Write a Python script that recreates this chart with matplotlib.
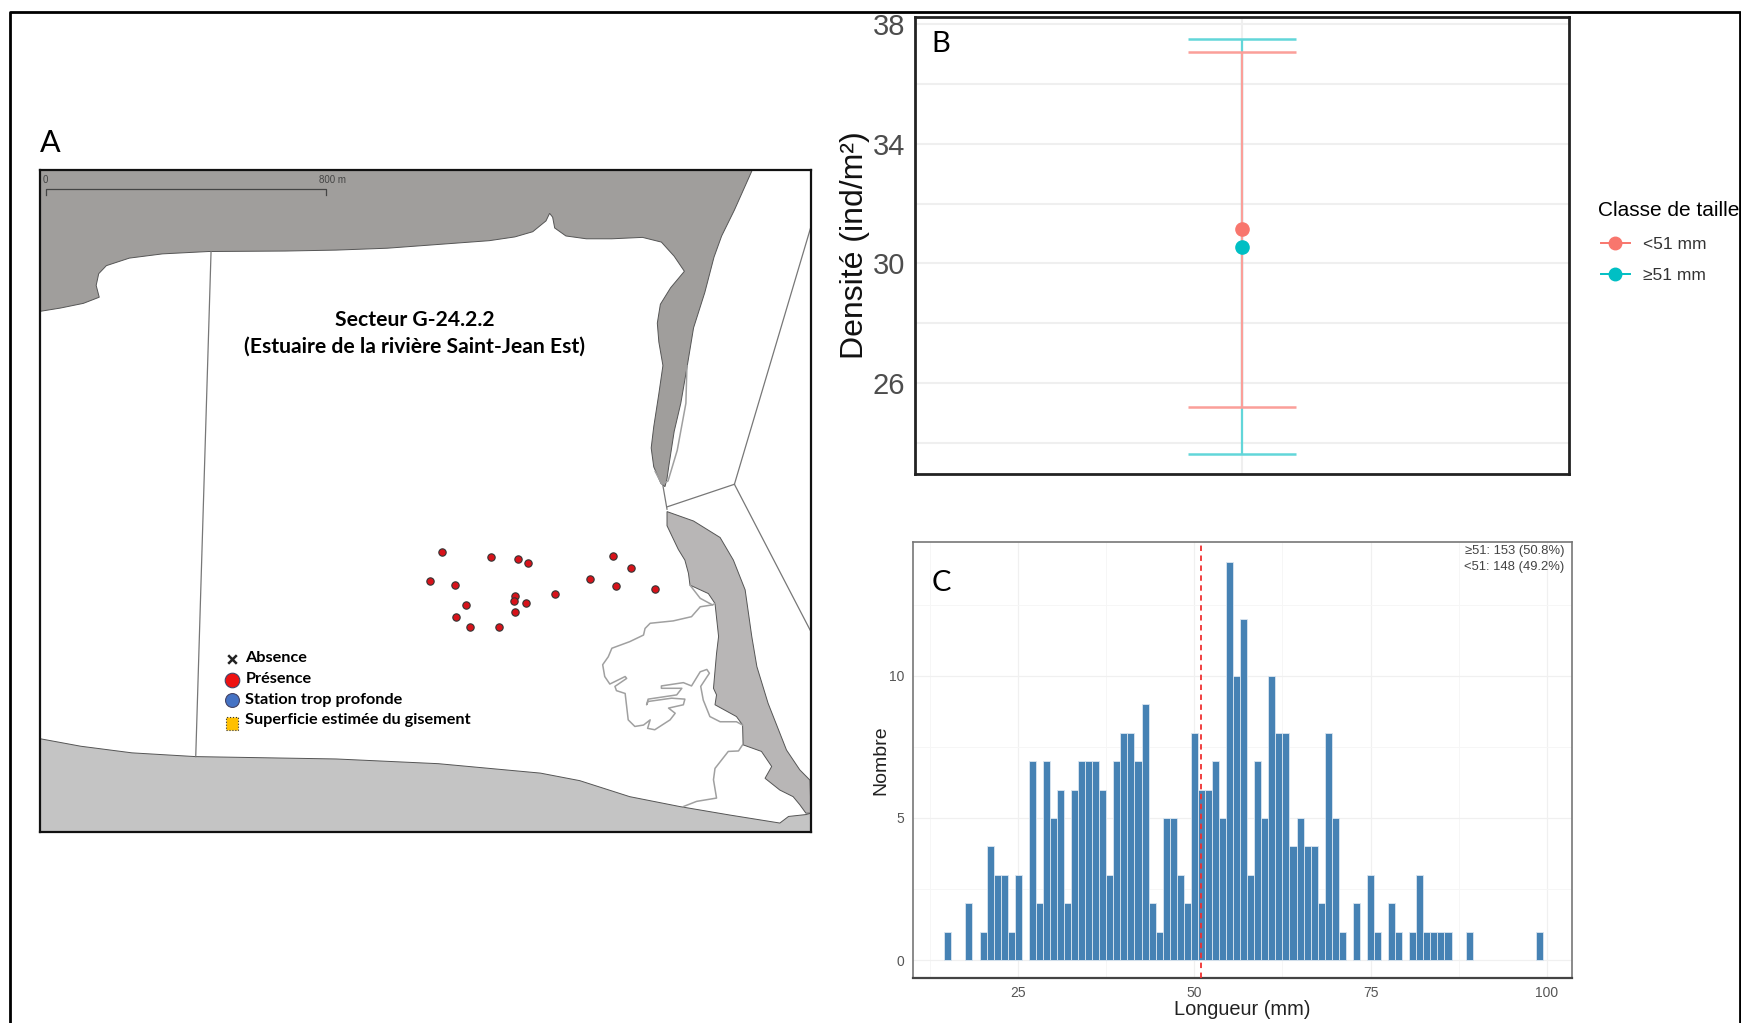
import matplotlib
matplotlib.use('Agg')
import matplotlib.pyplot as plt
from matplotlib.patches import Polygon

W, H = 1741, 1023

# --- panel A: contours cartographiques (coord. carte) ---
land_top = [(20,125),(1415,125),(1380,210),(1355,265),(1340,310),(1322,385),(1300,460),(1287,545),
            (1275,620),(1262,680),(1252,750),(1248,780),(1244,797),(1236,790),(1222,755),(1217,715),
            (1222,670),(1232,600),(1240,540),(1232,490),(1229,450),(1235,410),(1255,375),(1282,340),
            (1262,308),(1237,278),(1200,268),(1140,271),(1090,271),(1050,265),(1028,248),(1024,225),
            (1018,217),(1011,233),(985,256),(950,267),(900,275),(800,283),(700,291),(600,295),
            (500,297),(350,298),(260,303),(195,312),(150,328),(135,345),(130,370),(136,395),
            (105,408),(60,418),(20,425)]
land_right = [(1248,850),(1300,870),(1352,905),(1378,953),(1401,1016),(1414,1115),(1424,1179),(1446,1257),
              (1482,1356),(1508,1398),(1528,1420),(1530,1490),(1520,1490),(1508,1472),(1495,1455),
              (1469,1441),(1440,1416),(1453,1391),(1433,1359),(1397,1345),(1396,1303),(1384,1285),
              (1342,1260),(1345,1239),(1339,1225),(1345,1151),(1349,1115),(1342,1045),(1329,1024),
              (1293,1006),(1290,981),(1283,953),(1270,930),(1248,880)]
land_bottom = [(20,1332),(100,1348),(200,1362),(325,1370),(600,1375),(800,1385),(1000,1405),(1077,1421),
               (1175,1455),(1273,1476),(1371,1494),(1469,1511),(1486,1497),(1520,1493),(1530,1490),
               (1530,1530),(20,1530)]
sector_lines = [[(355,298),(325,1370)], [(1240,795),(1248,845)], [(1248,840),(1380,792)],
                [(1380,792),(1530,245)], [(1380,792),(1530,1105)]]
marsh_outlines = [[(1337,1048),(1313,1052),(1296,1073),(1260,1082),(1215,1087),(1205,1098),(1202,1112),
                   (1175,1126),(1140,1140),(1133,1158),(1122,1175),(1126,1200),(1136,1216),(1166,1200),
                   (1169,1204),(1146,1221),(1149,1230),(1166,1236),(1172,1292),(1185,1306),(1202,1303),
                   (1215,1292),(1210,1310),(1224,1313),(1254,1292),(1264,1278),(1251,1267),(1280,1260),
                   (1283,1248),(1257,1246),(1211,1253),(1208,1260),(1211,1248),(1267,1239),(1277,1225),
                   (1237,1225),(1237,1220),(1280,1213),(1296,1220),(1313,1190),(1326,1185),(1331,1193),
                   (1314,1221),(1319,1250),(1332,1285),(1352,1296),(1384,1296),(1396,1303)],
                  [(1396,1345),(1388,1358),(1368,1359),(1342,1395),(1339,1419),(1345,1458),(1306,1465),
                   (1280,1476)],
                  [(1293,1006),(1313,1034),(1337,1048),(1342,1045)],
                  [(1287,540),(1285,620),(1268,720),(1250,785),(1238,792),(1225,765)]]
stations_x = [807,903,956,975,784,832,1143,1178,1098,1148,1225,1029,950,948,971,855,950,835,863,919]
stations_y = [936,946,950,960,997,1005,944,970,992,1007,1014,1025,1029,1039,1044,1048,1063,1074,1094,1094]
legend_labels = ['Absence', 'Présence', 'Station trop profonde', 'Superficie estimée du gisement']

# --- panel B ---
classes = ['<51 mm', '≥51 mm']
class_colors = ['#F8766D', '#00BFC4']
bar_colors = ['#fb9f99', '#62d6d9']
dens_mean = [31.15, 30.56]
dens_low = [25.2, 23.62]
dens_high = [37.07, 37.52]

# --- panel C ---
lengths = [15,18,20,21,22,23,24,25,27,28,29,30,31,32,33,34,35,36,37,38,39,40,41,42,43,44,45,46,47,48,49,
           50,51,52,53,54,55,56,57,58,59,60,61,62,63,64,65,66,67,68,69,70,71,73,75,76,78,79,81,82,83,84,85,86,89,99]
counts = [1,2,1,4,3,3,1,3,7,2,7,5,6,2,6,7,7,7,6,3,7,8,8,7,9,2,1,5,5,3,2,
          8,6,6,7,5,14,10,12,3,7,5,10,8,8,4,5,4,4,2,8,5,1,2,3,1,2,1,1,3,1,1,1,1,1,1]


def px_axes(fig, left, top, right, bottom):
    return fig.add_axes([left / W, 1 - bottom / H, (right - left) / W, (bottom - top) / H])


fig = plt.figure(figsize=(W / 100, H / 100), dpi=100)
plt.rcParams['font.family'] = ['Liberation Sans', 'DejaVu Sans']

# cadre extérieur
bg = fig.add_axes([0, 0, 1, 1])
bg.set_xlim(0, W)
bg.set_ylim(H, 0)
bg.axis('off')
bg.plot([10, 10, 1740, 1740], [H, 12, 12, H], color='black', lw=2)
bg.text(40, 143, 'A', fontsize=22, family='Lato', va='center')

# Panel A : carte
ax = px_axes(fig, 40, 170, 811, 832)
ax.set_xlim(20, 1530)
ax.set_ylim(1530, 125)
ax.set_xticks([])
ax.set_yticks([])
ax.add_patch(Polygon(land_bottom, fc='#c4c4c4', ec='#555555', lw=0.7))
ax.add_patch(Polygon(land_top, fc='#a09e9c', ec='#555555', lw=0.7))
ax.add_patch(Polygon(land_right, fc='#b8b6b6', ec='#555555', lw=0.7))
for seg in sector_lines:
    ax.plot([p[0] for p in seg], [p[1] for p in seg], color='#777777', lw=0.9)
for seg in marsh_outlines:
    ax.plot([p[0] for p in seg], [p[1] for p in seg], color='#a0a0a0', lw=1.1)
ax.scatter(stations_x, stations_y, s=28, c='#d8121a', edgecolors='#333333', linewidths=0.8, zorder=5)
ax.plot([31, 31, 581, 581], [178, 165, 165, 178], color='#444444', lw=0.9)
ax.text(31, 147, '0', fontsize=7, color='#444444', ha='center', va='center')
ax.text(592, 147, '800 m', fontsize=7, color='#444444', ha='center', va='center')
ax.text(754, 443, 'Secteur G-24.2.2', fontsize=15.2, family='Lato', fontweight='bold', ha='center', va='center')
ax.text(754, 500, '(Estuaire de la rivière Saint-Jean Est)', fontsize=15.2, family='Lato', fontweight='bold',
        ha='center', va='center')
ax.scatter([396], [1162], marker='x', s=38, c='#222222', linewidths=1.8)
ax.scatter([396], [1207], s=110, c='#ee1111', edgecolors='#444466', linewidths=0.8)
ax.scatter([396], [1250], s=100, c='#4472c4', edgecolors='#444466', linewidths=0.8)
ax.scatter([396], [1300], marker='s', s=85, c='#ffc000', edgecolors='#333333', linewidths=0.8, linestyles=':')
for lab, yy in zip(legend_labels, [1161, 1206, 1249, 1292]):
    ax.text(422, yy, lab, fontsize=11.7, family='Lato', fontweight='bold', va='center')
for s in ax.spines.values():
    s.set_linewidth(1.6)
    s.set_color('#111111')

# Panel B : densité
axb = px_axes(fig, 915, 17, 1569, 474)
axb.set_xlim(-1, 1)
axb.set_ylim(38 - (474 - 24.3) / 29.9, 38 + (24.3 - 17) / 29.9)
axb.set_yticks([38, 34, 30, 26])
axb.set_yticks([36, 32, 28, 24], minor=True)
axb.set_xticks([0])
axb.set_xticklabels([])
axb.grid(True, which='both', color='#efefef', lw=1.5)
axb.tick_params(which='both', length=0)
axb.tick_params(axis='y', labelsize=21, labelcolor='#4d4d4d', pad=7)
axb.set_axisbelow(True)
for i in [1, 0]:
    axb.errorbar([0], [dens_mean[i]], yerr=[[dens_mean[i] - dens_low[i]], [dens_high[i] - dens_mean[i]]],
                 color=bar_colors[i], ecolor=bar_colors[i], elinewidth=1.6, capsize=54 * 0.72, capthick=1.8,
                 fmt='none')
for i in [0, 1]:
    axb.plot([0], [dens_mean[i]], 'o', color=class_colors[i], ms=9.5)
axb.set_ylabel('Densité (ind/m²)', fontsize=23, labelpad=2, color='#111111')
axb.text(0.025, 0.94, 'B', transform=axb.transAxes, fontsize=21, family='Lato', va='center')
for s in axb.spines.values():
    s.set_linewidth(2)
    s.set_color('#222222')
handles = [plt.Line2D([], [], color=c, marker='o', ms=9, lw=1.4) for c in class_colors]
fig.legend(handles, classes, title='Classe de taille', loc='upper left', bbox_to_anchor=(1585 / W, 1 - 187 / H),
           frameon=False, fontsize=12.5, title_fontsize=15, labelspacing=0.9, handlelength=1.7,
           handletextpad=0.75, labelcolor='#333333', alignment='left', borderaxespad=0.5)
fig.legends[-1].get_title().set_position((-3, 2))

# Panel C : histogramme
axc = px_axes(fig, 913, 542, 1572, 978)
axc.bar(lengths, counts, width=1.0, color='#4682B4', edgecolor='#dbe6f0', linewidth=0.6, zorder=3)
axc.axvline(51, color='#f03030', ls=(0, (3, 2.5)), lw=1.3, zorder=4)
axc.set_xlim(10.06, 103.6)
axc.set_ylim(-0.625, 14.7)
axc.set_xticks([25, 50, 75, 100])
axc.set_yticks([0, 5, 10])
axc.set_xticks([12.5, 37.5, 62.5, 87.5], minor=True)
axc.set_yticks([2.5, 7.5, 12.5], minor=True)
axc.grid(True, which='major', color='#f0f0f0', lw=0.9)
axc.grid(True, which='minor', color='#f6f6f6', lw=0.7)
axc.set_axisbelow(True)
axc.tick_params(which='both', length=0)
axc.tick_params(labelsize=10, labelcolor='#555555', pad=6)
axc.set_xlabel('Longueur (mm)', fontsize=14.4, labelpad=0, color='#222222')
axc.set_ylabel('Nombre', fontsize=14, labelpad=0, color='#222222')
axc.text(0.988, 0.992, '≥51: 153 (50.8%)\n<51: 148 (49.2%)', transform=axc.transAxes, fontsize=9.4,
         color='#444444', ha='right', va='top', linespacing=1.42)
axc.text(0.028, 0.905, 'C', transform=axc.transAxes, fontsize=21, family='Lato', va='center')
for name, s in axc.spines.items():
    s.set_color('#777777')
    s.set_linewidth(1.2)
axc.spines['bottom'].set_linewidth(1.6)
axc.spines['bottom'].set_color('#444444')

fig.savefig('out.png', dpi=100)
